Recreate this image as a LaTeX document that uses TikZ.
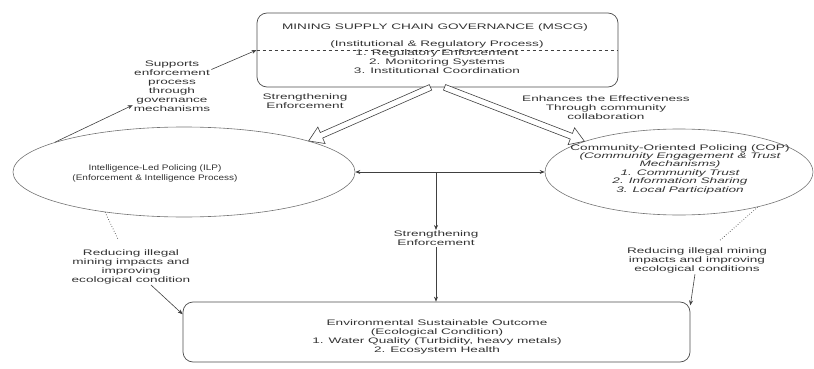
\documentclass[tikz,border=0pt]{standalone}
\usepackage{fontspec}
\setmainfont{Liberation Sans}[FakeStretch=1.7]
\newfontfamily\narrowfont{Liberation Sans}[FakeStretch=1.25]
\usetikzlibrary{shapes.geometric,arrows.meta,calc}
\begin{document}
\begin{tikzpicture}[x=1pt,y=-1pt,
  txt/.style={font=\fontsize{8}{8.8}\selectfont, align=center, inner sep=1pt, text=black!80},
  ln/.style={draw=black!75, line width=0.6pt},
  arr/.style={ln, -{Stealth[length=5pt,width=4pt]}},
  ell/.style={ellipse, draw=black!55, line width=0.6pt, inner sep=0pt},
  rbox/.style={draw=black!70, line width=0.7pt, rounded corners=10pt, inner sep=0pt},
  hollow/.style={draw=black!75, line width=0.6pt, fill=white, line join=miter}]
\useasboundingbox (0,0) rectangle (814,369);

% shapes
\node[rbox, minimum width=361pt, minimum height=74pt] (msc) at (437.5,50) {};
\node[ell, minimum width=342pt, minimum height=90pt] (ilp) at (184,172) {};
\node[ell, minimum width=268pt, minimum height=86pt] (cop) at (679,172) {};
\node[rbox, minimum width=507pt, minimum height=60pt] (env) at (436.5,332) {};

% texts inside shapes
\node[txt] (msct) at (435,27) {MINING SUPPLY CHAIN GOVERNANCE (MSCG)};
\node[txt, font=\fontsize{8}{9}\selectfont] (mscb) at (437,57.5)
  {(Institutional \& Regulatory Process)\\1. Regulatory Enforcement\\2. Monitoring Systems\\3. Institutional Coordination};
\node[txt, font=\fontsize{8}{10}\selectfont\narrowfont] (ilpt) at (155,173)
  {Intelligence-Led Policing (ILP)\\(Enforcement \& Intelligence Process)};
\node[txt, font=\fontsize{8}{8.4}\selectfont] (copt) at (680,169)
  {Community-Oriented Policing (COP)\\\itshape (Community Engagement \& Trust\\\itshape Mechanisms)\\\itshape 1. Community Trust\\\itshape 2. Information Sharing\\\itshape 3. Local Participation};
\node[txt, font=\fontsize{8}{9}\selectfont] (envt) at (437,336.5)
  {Environmental Sustainable Outcome\\(Ecological Condition)\\1. Water Quality (Turbidity, heavy metals)\\2. Ecosystem Health};

% labels
\node[txt, font=\fontsize{8}{9}\selectfont] (sup) at (172,86.5)
  {Supports\\enforcement\\process\\through\\governance\\mechanisms};
\node[txt] (sl) at (305,101) {Strengthening\\Enforcement};
\node[txt] (enh) at (606,107.5) {Enhances the Effectiveness\\Through community\\collaboration};
\node[txt] (se) at (436,238.5) {Strengthening\\Enforcement};
\node[txt, font=\fontsize{8}{9}\selectfont] (lred) at (131,266.5)
  {Reducing illegal\\mining impacts and\\improving\\ecological condition};
\node[txt] (rred) at (697,260.5)
  {Reducing illegal mining\\impacts and improving\\ecological conditions};

% connectors
\draw[ln, dashed] (msc.west) -- (msc.east);
\draw[arr] (ilp.167) -- (sup);
\draw[arr] (sup) -- (msc.west);

\coordinate (hl0) at ($(msc.south)+(-7,0)$);
\coordinate (hr0) at ($(msc.south)+(7,0)$);
\draw[hollow] let \p1=($(ilp.14)-(hl0)$), \n1={atan2(\y1,\x1)}, \n2={veclen(\x1,\y1)} in
  [shift={(hl0)}, rotate=\n1] (0,-3) -- ({\n2-14},-3) -- ({\n2-14},-9) -- (\n2,0) -- ({\n2-14},9) -- ({\n2-14},3) -- (0,3) -- cycle;
\draw[hollow] let \p1=($(cop.162)-(hr0)$), \n1={atan2(\y1,\x1)}, \n2={veclen(\x1,\y1)} in
  [shift={(hr0)}, rotate=\n1] (0,-3) -- ({\n2-14},-3) -- ({\n2-14},-9) -- (\n2,0) -- ({\n2-14},9) -- ({\n2-14},3) -- (0,3) -- cycle;

\draw[ln, {Stealth[length=5pt,width=4pt]}-{Stealth[length=5pt,width=4pt]}] (ilp.east) -- (cop.west);
\coordinate (mid) at (436,172);
\draw[arr] (mid) -- (se);
\draw[arr] (se) -- (se |- env.north);

\draw[ln, dotted, line width=0.8pt, shorten >=9pt] (ilp.207) -- (lred);
\draw[arr] (lred) -- (env.176);
\draw[ln, dotted, line width=0.8pt, shorten >=9pt] (cop.336) -- (rred);
\draw[arr] (rred) -- (env.6);
\end{tikzpicture}
\end{document}
